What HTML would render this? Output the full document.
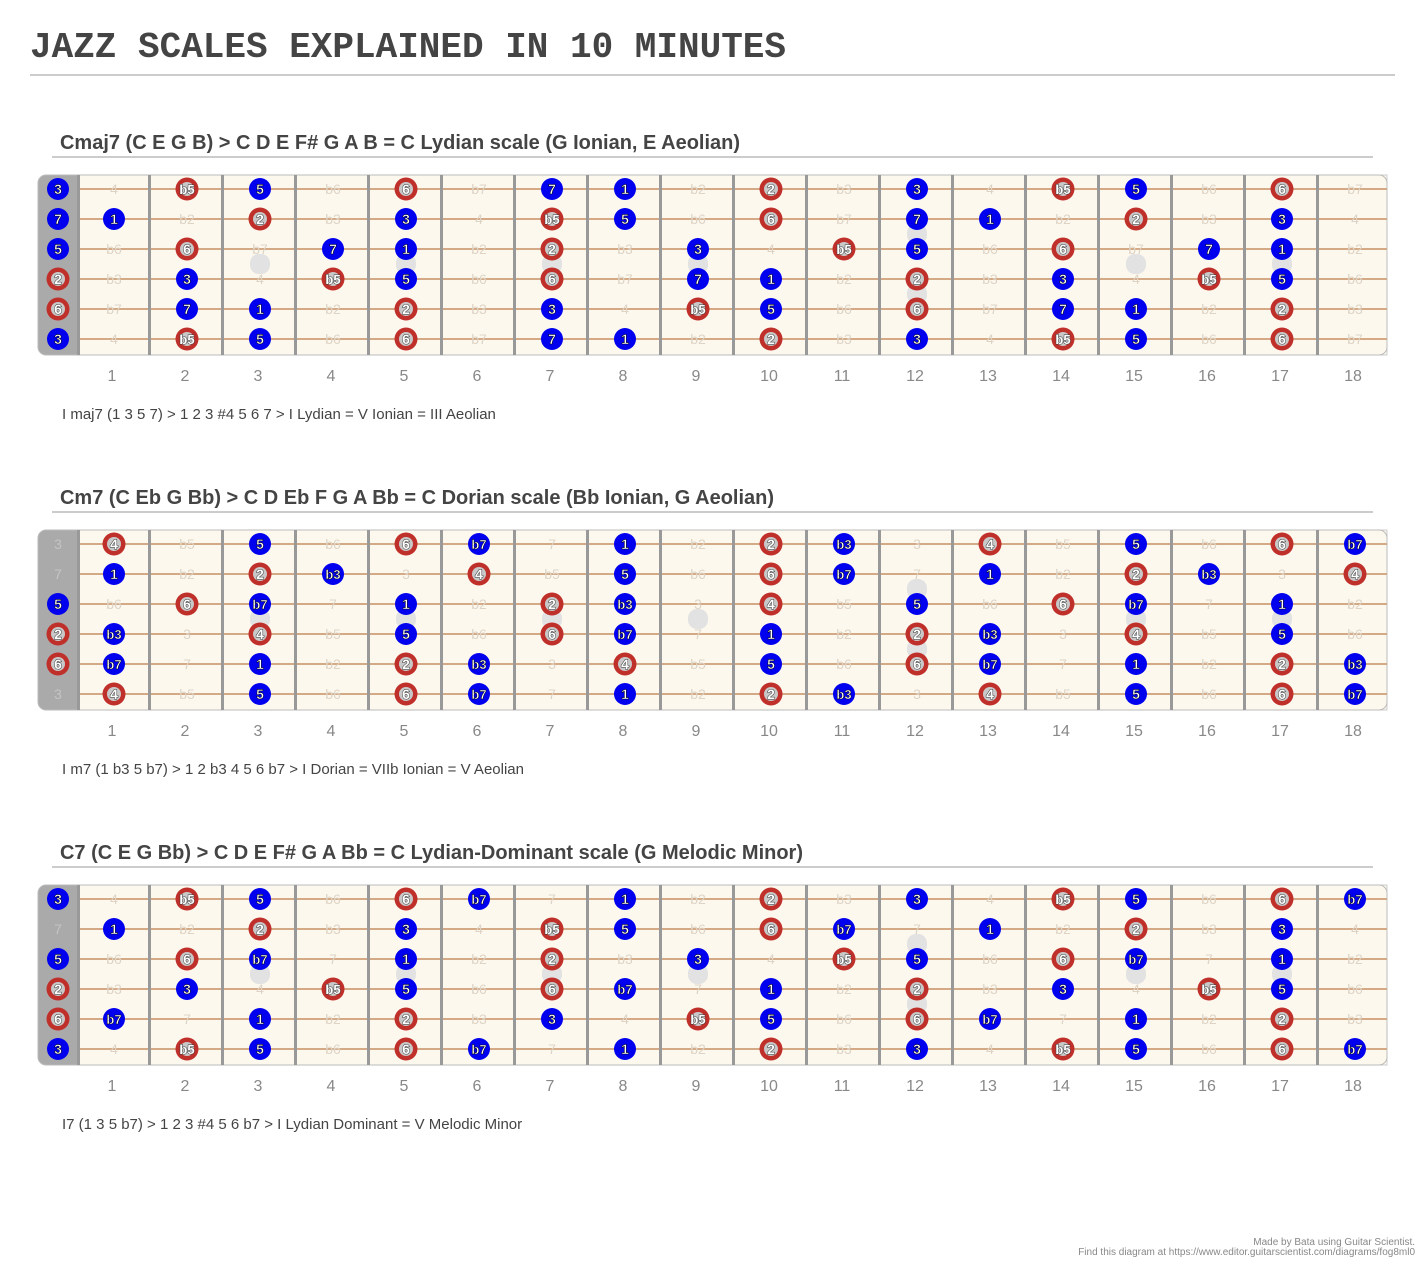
<!DOCTYPE html>
<html><head><meta charset="utf-8">
<style>
html,body{margin:0;padding:0;background:#fff;}
svg{display:block;}
</style></head>
<body>
<svg id="s" xmlns="http://www.w3.org/2000/svg" width="1425" height="1267" viewBox="0 0 1425 1267">
<rect width="1425" height="1267" fill="#fff"/>
<text x="30" y="57" font-family="Liberation Mono, monospace" font-weight="bold" font-size="36" fill="#444" textLength="756">JAZZ SCALES EXPLAINED IN 10 MINUTES</text>
<rect x="30" y="74" width="1365" height="2" fill="#ccc"/>
<text x="1415" y="1245" text-anchor="end" font-family="Liberation Sans, sans-serif" font-size="10" fill="#888">Made by Bata using Guitar Scientist.</text>
<text x="1415" y="1255" text-anchor="end" font-family="Liberation Sans, sans-serif" font-size="10" fill="#888">Find this diagram at https://www.editor.guitarscientist.com/diagrams/fog8ml0</text>
<g id="g"></g>
</svg>
<script>
(function(){
var NS="http://www.w3.org/2000/svg";
var g=document.getElementById("g");
function el(t,a,txt){var e=document.createElementNS(NS,t);for(var k in a)e.setAttribute(k,a[k]);if(txt!==undefined)e.textContent=txt;g.appendChild(e);return e;}
var names=["1","b2","2","b3","3","4","b5","5","b6","6","b7","7"];
var tuning=[4,11,7,2,9,4];
var boards=[
 {title:"Cmaj7 (C E G B) > C D E F# G A B = C Lydian scale (G Ionian, E Aeolian)",tw:680,
  cap:"I maj7 (1 3 5 7) > 1 2 3 #4 5 6 7 > I Lydian = V Ionian = III Aeolian",
  blue:[0,4,7,11],red:[2,6,9]},
 {title:"Cm7 (C Eb G Bb) > C D Eb F G A Bb = C Dorian scale (Bb Ionian, G Aeolian)",tw:714,
  cap:"I m7 (1 b3 5 b7) > 1 2 b3 4 5 6 b7 > I Dorian = VIIb Ionian = V Aeolian",
  blue:[0,3,7,10],red:[2,5,9]},
 {title:"C7 (C E G Bb) > C D E F# G A Bb = C Lydian-Dominant scale (G Melodic Minor)",tw:743,
  cap:"I7 (1 3 5 b7) > 1 2 3 #4 5 6 b7 > I Lydian Dominant = V Melodic Minor",
  blue:[0,4,7,10],red:[2,6,9]}
];
function cx(n){return n==0?58:41+73*n;}
var F="Liberation Sans, sans-serif";
boards.forEach(function(b,bi){
 var o=bi*355;
 el("text",{x:60,y:149+o,"font-family":F,"font-weight":"bold","font-size":"20",fill:"#444",textLength:b.tw,lengthAdjust:"spacingAndGlyphs"},b.title);
 el("rect",{x:52,y:156+o,width:1321,height:2,fill:"#ccc"});
 el("rect",{x:38,y:175+o,width:1349,height:180,rx:8,fill:"#aaa"});
 el("rect",{x:78,y:175+o,width:1309,height:180,fill:"#fdf8ee",stroke:"#ccc","stroke-width":1});
 el("rect",{x:38,y:175+o,width:1349,height:180,rx:8,fill:"none",stroke:"#bbb","stroke-width":1});
 [3,5,7,9,15,17].forEach(function(f){el("rect",{x:cx(f)-10,y:254+o,width:20,height:20,rx:9,fill:"#e2e2e2"});});
 [234,294].forEach(function(y){el("rect",{x:cx(12)-10,y:y-10+o,width:20,height:20,rx:9,fill:"#e2e2e2"});});
 for(var s=0;s<6;s++)el("rect",{x:78,y:188+30*s+o,width:1309,height:2,fill:"#d4a986"});
 for(var f=1;f<=17;f++)el("rect",{x:149+73*(f-1)-1,y:175+o,width:3,height:180,fill:"#999"});
 el("rect",{x:77,y:175+o,width:3,height:180,fill:"#999"});
 for(var s=0;s<6;s++){
  var y=189+30*s+o;
  for(var n=0;n<=18;n++){
   var iv=(tuning[s]+n)%12,x=cx(n),nm=names[iv];
   var fs=nm.length>1?"13":"14";
   if(b.blue.indexOf(iv)>=0){
    el("circle",{cx:x,cy:y,r:11,fill:"#0000ee"});
    el("text",{x:x,y:y+5,"text-anchor":"middle","font-family":F,"font-weight":"bold","font-size":fs,fill:"#fff",stroke:"#000","stroke-width":"0.5"},nm);
   }else if(b.red.indexOf(iv)>=0){
    el("circle",{cx:x,cy:y,r:11.5,fill:"#c0302a"});
    el("circle",{cx:x,cy:y,r:7,fill:"#c8c8c8"});
    el("text",{x:x,y:y+5,"text-anchor":"middle","font-family":F,"font-weight":"bold","font-size":fs,fill:"#fff",stroke:"#333","stroke-width":"1","paint-order":"stroke"},nm);
   }else{
    el("text",{x:x,y:y+5,"text-anchor":"middle","font-family":F,"font-size":"14",fill:n==0?"#c4c4c4":"#ddd4c6"},nm);
   }
  }
 }
 for(var f=1;f<=18;f++)el("text",{x:cx(f)-2,y:381+o,"text-anchor":"middle","font-family":F,"font-size":"16",fill:"#888"},String(f));
 el("text",{x:62,y:419+o,"font-family":F,"font-size":"15",fill:"#444"},b.cap);
});
})();
</script>
</body></html>
